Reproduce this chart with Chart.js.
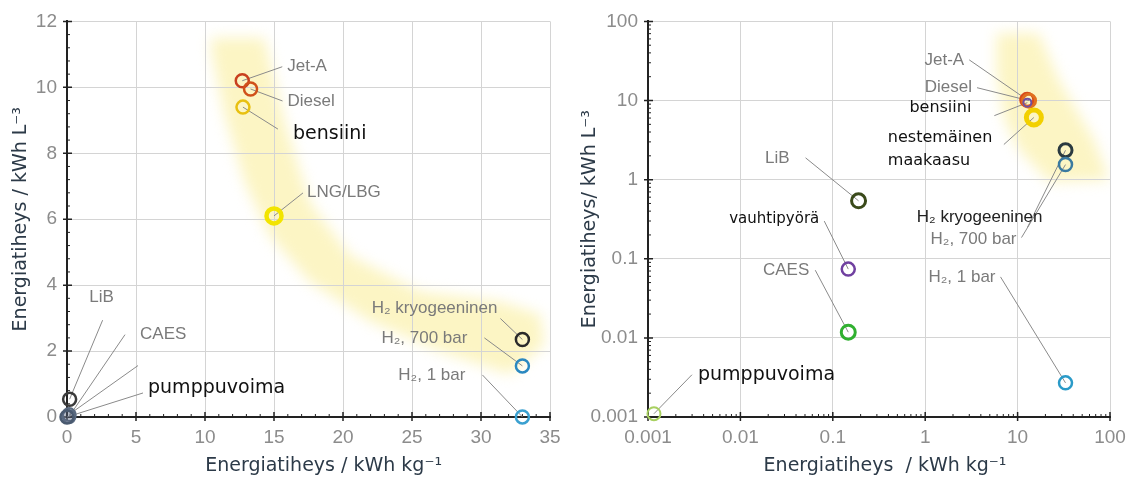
<!DOCTYPE html>
<html lang="fi">
<head>
<meta charset="utf-8">
<title>Energiatiheys</title>
<script src="https://cdn.jsdelivr.net/npm/chart.js@4.4.1/dist/chart.umd.min.js"></script>
<style>
  html, body { margin: 0; padding: 0; background: #fff; }
  .panel { position: absolute; top: 0; height: 482px; }
  #leftPanel { left: 0; width: 570px; }
  #rightPanel { left: 570px; width: 573px; }
</style>
</head>
<body>
<div class="panel" id="leftPanel"><canvas id="linChart"></canvas></div>
<div class="panel" id="rightPanel"><canvas id="logChart"></canvas></div>
<script>
// 📦 Data
const fuels = ['Jet-A', 'Diesel', 'bensiini', 'LNG/LBG', 'H₂ kryogeeninen', 'H₂, 700 bar',
  'H₂, 1 bar', 'LiB', 'vauhtipyörä', 'CAES', 'pumppuvoima'];
const massDensity = [12.7, 13.3, 12.75, 15.0, 33.0, 33.0, 33.0, 0.19, 0.147, 0.147, 0.00116];   // kWh/kg
const volumeDensity = [10.2, 9.95, 9.4, 6.1, 2.35, 1.55, 0.0027, 0.54, 0.074, 0.0118, 0.0011]; // kWh/L

const linXTicks = [0, 5, 10, 15, 20, 25, 30, 35];
const linYTicks = [0, 2, 4, 6, 8, 10, 12];
const logXTicks = [0.001, 0.01, 0.1, 1, 10, 100];
const logYTicks = [0.001, 0.01, 0.1, 1, 10, 100];

// yellow highlight band outline (kWh/kg, kWh/L)
const linBandX = [10.4, 14.3, 15.8, 17.6, 20.5, 25.6, 31.4, 34.3, 34.6, 32.1, 27.0, 22.0, 17.6, 14.7, 12.9, 11.4, 10.5];
const linBandY = [11.5, 11.5, 8.9, 6.5, 4.9, 3.8, 3.5, 3.1, 2.2, 1.3, 2.0, 2.9, 4.1, 5.5, 7.1, 9.2, 11.0];
const logBandX = [5.9, 17, 28, 67, 98, 22, 10.4, 7.2, 5.9];
const logBandY = [71, 71, 18, 3.2, 1.0, 0.94, 2.4, 5.7, 24];

document.addEventListener("DOMContentLoaded", function () {
  const GRAY = { family: 'Liberation Sans', size: 17, color: '#7a7a7a' };
  const BLACK = { family: 'DejaVu Sans', size: 19, color: '#111' };

  // minor tick values
  const linXMinor = [];
  for (let k = 1; k < 35; k++) if (k % 5) linXMinor.push(k);
  const linYMinor = [];
  for (let k = 1; k < 30; k++) if (k % 5) linYMinor.push(k * 0.4);
  const logMinor = [];
  for (let e = -3; e < 2; e++) for (let m = 2; m < 10; m++) logMinor.push(m * Math.pow(10, e));

  const panels = {
    linChart: {
      bandX: linBandX, bandY: linBandY,
      xMajor: linXTicks, yMajor: linYTicks, xMinor: linXMinor, yMinor: linYMinor,
      labels: [
        { i: 0, text: 'Jet-A', lx: 40, ly: -14, tx: 45, ty: -14, align: 'left', f: GRAY },
        { i: 1, text: 'Diesel', lx: 32, ly: 12, tx: 37, ty: 12, align: 'left', f: GRAY },
        { i: 2, text: 'bensiini', lx: 35, ly: 22, tx: 50, ty: 27, align: 'left', f: BLACK },
        { i: 3, text: 'LNG/LBG', lx: 29, ly: -23, tx: 33, ty: -24, align: 'left', f: GRAY },
        { i: 4, text: 'H₂ kryogeeninen', lx: -22, ly: -21, tx: -25, ty: -31, align: 'right', f: GRAY },
        { i: 5, text: 'H₂, 700 bar', lx: -38, ly: -28, tx: -55, ty: -28, align: 'right', f: GRAY },
        { i: 6, text: 'H₂, 1 bar', lx: -40, ly: -42, tx: -57, ty: -42, align: 'right', f: GRAY },
        { i: 7, text: 'LiB', lx: 33, ly: -79, tx: 32, ty: -102, align: 'center', f: GRAY },
        { i: 8, text: '', lx: 69, ly: -49 },
        { i: 9, text: 'CAES', lx: 56, ly: -82, tx: 71, ty: -82, align: 'left', f: GRAY },
        { i: 10, text: 'pumppuvoima', lx: 76, ly: -24, tx: 81, ty: -29, align: 'left', f: BLACK }
      ]
    },
    logChart: {
      bandX: logBandX, bandY: logBandY,
      xMajor: logXTicks, yMajor: logYTicks, xMinor: logMinor, yMinor: logMinor,
      labels: [
        { i: 0, text: 'Jet-A', lx: -58, ly: -40, tx: -63, ty: -40, align: 'right', f: GRAY },
        { i: 1, text: 'Diesel', lx: -52, ly: -13, tx: -57, ty: -13, align: 'right', f: GRAY },
        { i: 2, text: 'bensiini', lx: -33, ly: 13, tx: -56, ty: 5, align: 'right', f: { ...BLACK, size: 16 } },
        { i: 3, text: ['nestemäinen', 'maakaasu'], lx: -30, ly: 27, tx: -146, ty: 20, align: 'left', f: { ...BLACK, size: 16 } },
        { i: 4, text: 'H₂ kryogeeninen', lx: -38, ly: 77, tx: -23, ty: 67, align: 'right', f: { ...GRAY, color: '#222' } },
        { i: 5, text: 'H₂, 700 bar', lx: -44, ly: 73, tx: -49, ty: 75, align: 'right', f: GRAY },
        { i: 6, text: 'H₂, 1 bar', lx: -65, ly: -106, tx: -70, ty: -106, align: 'right', f: GRAY },
        { i: 7, text: 'LiB', lx: -53, ly: -43, tx: -69, ty: -43, align: 'right', f: GRAY },
        { i: 8, text: 'vauhtipyörä', lx: -24, ly: -48, tx: -29, ty: -50, align: 'right', f: { ...BLACK, size: 15 } },
        { i: 9, text: 'CAES', lx: -33, ly: -62, tx: -39, ty: -62, align: 'right', f: GRAY },
        { i: 10, text: 'pumppuvoima', lx: 38, ly: -39, tx: 44, ty: -39, align: 'left', f: BLACK }
      ]
    }
  };

  // 🟡 band, tick marks, leaders and labels
  const decor = {
    id: 'decor',
    beforeDraw(chart) {
      const cfg = panels[chart.canvas.id];
      const { ctx, chartArea: a, scales: { x, y } } = chart;
      ctx.save();
      ctx.beginPath();
      ctx.rect(a.left, a.top, a.width, a.height);
      ctx.clip();
      ctx.filter = 'blur(7px)';
      ctx.fillStyle = '#fcf5c4';
      ctx.beginPath();
      cfg.bandX.forEach((v, k) => {
        const px = x.getPixelForValue(v), py = y.getPixelForValue(cfg.bandY[k]);
        k ? ctx.lineTo(px, py) : ctx.moveTo(px, py);
      });
      ctx.closePath();
      ctx.fill();
      ctx.restore();
    },
    beforeDatasetsDraw(chart) {
      const cfg = panels[chart.canvas.id];
      const { ctx, chartArea: a, scales: { x, y } } = chart;
      ctx.save();
      ctx.strokeStyle = '#222';
      ctx.lineWidth = 1.5;
      ctx.beginPath();
      cfg.xMajor.forEach(v => { const p = x.getPixelForValue(v); ctx.moveTo(p, a.bottom - 5); ctx.lineTo(p, a.bottom + 4); });
      cfg.yMajor.forEach(v => { const p = y.getPixelForValue(v); ctx.moveTo(a.left - 4, p); ctx.lineTo(a.left + 5, p); });
      ctx.stroke();
      ctx.lineWidth = 1;
      ctx.beginPath();
      cfg.xMinor.forEach(v => { const p = x.getPixelForValue(v); ctx.moveTo(p, a.bottom - 3); ctx.lineTo(p, a.bottom + 1); });
      cfg.yMinor.forEach(v => { const p = y.getPixelForValue(v); ctx.moveTo(a.left - 1, p); ctx.lineTo(a.left + 3, p); });
      ctx.stroke();

      // leader lines
      const pts = chart.getDatasetMeta(0).data;
      ctx.strokeStyle = '#8a8a8a';
      ctx.lineWidth = 1;
      ctx.beginPath();
      cfg.labels.forEach(l => {
        const p = pts[l.i];
        ctx.moveTo(p.x, p.y);
        ctx.lineTo(p.x + l.lx, p.y + l.ly);
      });
      ctx.stroke();
      ctx.restore();
    },
    afterDatasetsDraw(chart) {
      const cfg = panels[chart.canvas.id];
      const ctx = chart.ctx;
      const pts = chart.getDatasetMeta(0).data;
      ctx.save();
      ctx.textBaseline = 'middle';
      cfg.labels.forEach(l => {
        if (!l.text) return;
        const p = pts[l.i];
        ctx.font = l.f.size + 'px "' + l.f.family + '"';
        ctx.fillStyle = l.f.color;
        ctx.textAlign = l.align;
        const lines = Array.isArray(l.text) ? l.text : [l.text];
        lines.forEach((t, n) => ctx.fillText(t, p.x + l.tx, p.y + l.ty + n * 23));
      });
      ctx.restore();
    }
  };

  function axis(type, ticks, title, fitSize, isY, titlePad) {
    return {
      type: type,
      min: ticks[0],
      max: ticks[ticks.length - 1],
      afterBuildTicks: s => { s.ticks = ticks.map(v => ({ value: v })); },
      afterFit: s => { if (isY) s.width = fitSize; else s.height = fitSize; },
      border: { display: true, color: '#222', width: 2 },
      grid: { color: '#d4d4d4', lineWidth: 1, drawTicks: false },
      ticks: {
        autoSkip: false, maxRotation: 0, padding: isY ? 10 : 9,
        color: '#8c8c8c', font: { family: 'Liberation Sans', size: 19 },
        callback: v => String(v)
      },
      title: {
        display: true, text: title, color: '#2c3a48',
        font: { family: 'DejaVu Sans', size: 19 },
        padding: titlePad
      }
    };
  }

  function makeChart(id, scaleType, xTicks, yTicks, yWidth, pad, styles, yPad, xTitle, yTitle) {
    new Chart(document.getElementById(id), {
      type: 'scatter',
      data: {
        datasets: [{
          data: massDensity.map((v, k) => ({ x: v, y: volumeDensity[k] })),
          pointRadius: styles.radius,
          pointBorderWidth: styles.width,
          pointBorderColor: styles.colors,
          pointBackgroundColor: styles.fill,
          clip: false
        }]
      },
      options: {
        responsive: true,
        maintainAspectRatio: false,
        animation: false,
        events: [],
        layout: { padding: pad },
        plugins: { legend: { display: false }, tooltip: { enabled: false } },
        scales: {
          x: axis(scaleType, xTicks, xTitle, 65, false, { top: 0, bottom: 5 }),
          y: axis(scaleType, yTicks, yTitle, yWidth, true, { top: yPad, bottom: 0 })
        }
      },
      plugins: [decor]
    });
  }

  const none = 'rgba(0,0,0,0)';

  makeChart('linChart', 'linear', linXTicks, linYTicks, 67, { top: 18, right: 20, left: 0, bottom: 0 }, {
    radius: [6.5, 6.5, 6.5, 7.5, 6.5, 6.5, 6.5, 6.5, 6.5, 6.5, 6.5],
    width: [2.5, 2.5, 2.5, 4.5, 2.5, 2.5, 2.5, 2.5, 2, 2, 2.5],
    colors: ['#c8401e', '#d0501a', '#e8c010', '#f2e400', '#2a2a2a', '#2a88c0', '#3aa0d0',
      '#3a3a3a', '#5a6a80', '#5a6a80', '#4a5a70'],
    fill: [none, none, none, none, none, none, none, none, none, none, 'rgba(90,105,130,0.45)']
  }, 10, '     Energiatiheys / kWh kg⁻¹', 'Energiatiheys / kWh L⁻³');

  makeChart('logChart', 'logarithmic', logXTicks, logYTicks, 78, { top: 20, right: 33, left: 0, bottom: 0 }, {
    radius: [6.5, 6.5, 4, 7.5, 6.5, 6.5, 6.5, 7, 6.5, 7, 6.5],
    width: [3, 3, 2, 5, 3, 2.5, 2.5, 3, 2.5, 3, 2],
    colors: ['#d84a1a', '#e07020', '#7050a0', '#f2d000', '#2a3a40', '#3a7aa0', '#2a9ac8',
      '#3a4a1a', '#7040a0', '#30b030', '#a8d060'],
    fill: none
  }, 9, '  Energiatiheys  / kWh kg⁻¹', 'Energiatiheys/ kWh L⁻³');
});
</script>
</body>
</html>
